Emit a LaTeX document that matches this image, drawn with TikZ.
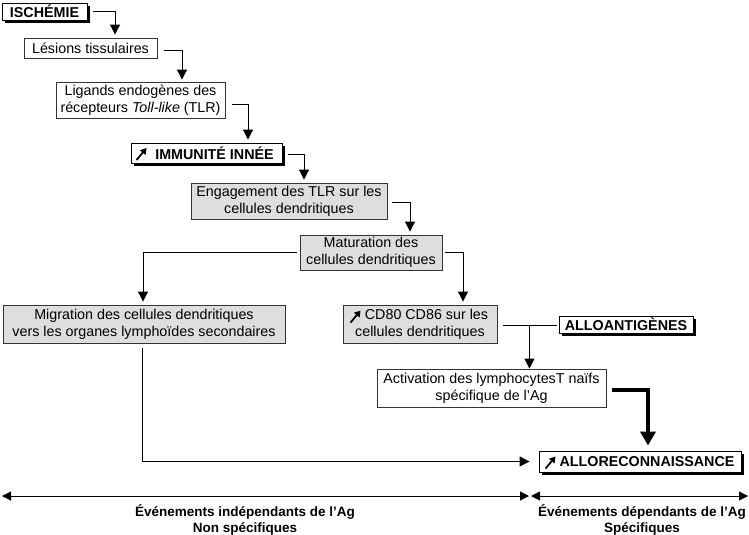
\documentclass[tikz,border=0pt]{standalone}
\usepackage{fontspec}
\setmainfont{Liberation Sans}
\usetikzlibrary{arrows.meta,shadows}
\begin{document}
\begin{tikzpicture}[x=1pt,y=-1pt,
  font=\fontsize{14.3}{17}\selectfont,
  box/.style={draw=black!80,line width=0.9pt,inner sep=0pt,align=center,fill=white},
  gbox/.style={box,fill=black!13},
  sbox/.style={box,draw=black,font=\fontsize{14.3}{17}\selectfont\bfseries,
     drop shadow={shadow xshift=3pt,shadow yshift=-3pt,fill=black,opacity=1}},
  arr/.style={line width=1pt,-{Triangle[length=10pt,width=10pt]}},
  tharr/.style={line width=3.5pt,-{Triangle[length=14pt,width=15pt]}},
  ln/.style={line width=1pt},
  icon/.style={line width=1.8pt,-{Triangle[length=6pt,width=7pt]}},
  dbl/.style={line width=1pt,{Triangle[length=9pt,width=9pt]}-{Triangle[length=9pt,width=9pt]}},
  lab/.style={font=\fontsize{13.5}{15.5}\selectfont\bfseries,align=center,inner sep=0pt}
]
\useasboundingbox (0,0) rectangle (749,535);

\node[sbox,minimum width=85pt,minimum height=17pt] (isch) at (44.5,11.5) {ISCHÉMIE};
\node[box,minimum width=133pt,minimum height=20pt] (les) at (90.5,48) {Lésions tissulaires};
\node[box,minimum width=169pt,minimum height=36pt] (lig) at (140.5,100) {Ligands endogènes des\\récepteurs \textit{Toll-like} (TLR)};
\node[sbox,minimum width=151pt,minimum height=20pt] (imm) at (206.5,153) {\hspace{16pt}IMMUNITÉ INNÉE};
\node[gbox,minimum width=196pt,minimum height=36pt] (eng) at (289,201) {Engagement des TLR sur les\\cellules dendritiques};
\node[gbox,minimum width=142pt,minimum height=35pt] (mat) at (371,252.5) {Maturation des\\cellules dendritiques};
\node[gbox,minimum width=282pt,minimum height=38pt] (mig) at (144,324) {Migration des cellules dendritiques\\vers les organes lymphoïdes secondaires};
\node[gbox,minimum width=154pt,minimum height=38pt] (cd) at (420,324) {\hspace{13pt}CD80 CD86 sur les\\cellules dendritiques};
\node[sbox,minimum width=134pt,minimum height=17pt] (allo) at (626,324.5) {ALLOANTIGÈNES};
\node[box,minimum width=229pt,minimum height=38pt] (act) at (491.5,388) {Activation des lymphocytesT naïfs\\spécifique de l’Ag};
\node[sbox,minimum width=202pt,minimum height=21pt] (rec) at (640,461.5) {\hspace{14pt}ALLORECONNAISSANCE};

% icons
\draw[icon] ([xshift=6pt,yshift=-7pt]imm.west) -- ++(10,-12);
\draw[icon] ([xshift=8pt,yshift=-18pt]cd.north west) -- ++(10,-12);
\draw[icon] ([xshift=7pt,yshift=-7pt]rec.west) -- ++(10,-12);

% connectors
\draw[arr] ([xshift=6pt]isch.east) -| ([xshift=24.5pt,yshift=3pt]les.north);
\draw[arr] ([xshift=7pt,yshift=-3pt]les.east) -| ([xshift=41.5pt,yshift=2pt]lig.north);
\draw[arr] ([xshift=7pt,yshift=-4pt]lig.east) -| ([xshift=41.5pt,yshift=3pt]imm.north);
\draw[arr] ([xshift=6pt,yshift=-1pt]imm.east) -| ([xshift=15pt,yshift=3pt]eng.north);
\draw[arr] ([xshift=5pt,yshift=-1pt]eng.east) -| ([xshift=39pt,yshift=3pt]mat.north);
\draw[arr] ([xshift=-3pt]mat.west) -| ([xshift=-1pt,yshift=3pt]mig.north);
\draw[arr] ([xshift=3pt]mat.east) -| ([xshift=43pt,yshift=3pt]cd.north);
\coordinate (cs) at ([xshift=6pt,yshift=-1pt]cd.east);
\coordinate (jn) at ([xshift=32pt,yshift=-1pt]cd.east);
\draw[ln] (cs) -- ([xshift=-2pt]cs -| allo.west);
\draw[arr] (jn) -- (jn |- act.north);
\draw[tharr] ([xshift=6pt,yshift=-2pt]act.east) -| ([xshift=8pt,yshift=5pt]rec.north);
\draw[arr] ([xshift=-2pt,yshift=-5pt]mig.south) |- ([xshift=-9pt]rec.west);

% bottom
\coordinate (bl) at (2,496);
\coordinate (bm) at (530,496);
\coordinate (br) at (748,496);
\draw[dbl] (bl) -- ([xshift=-1pt]bm);
\draw[dbl] ([xshift=1pt]bm) -- (br);
\node[lab] (t1) at (245,520) {Événements indépendants de l’Ag\\Non spécifiques};
\node[lab] (t2) at (642,520) {Événements dépendants de l’Ag\\Spécifiques};
\end{tikzpicture}
\end{document}
